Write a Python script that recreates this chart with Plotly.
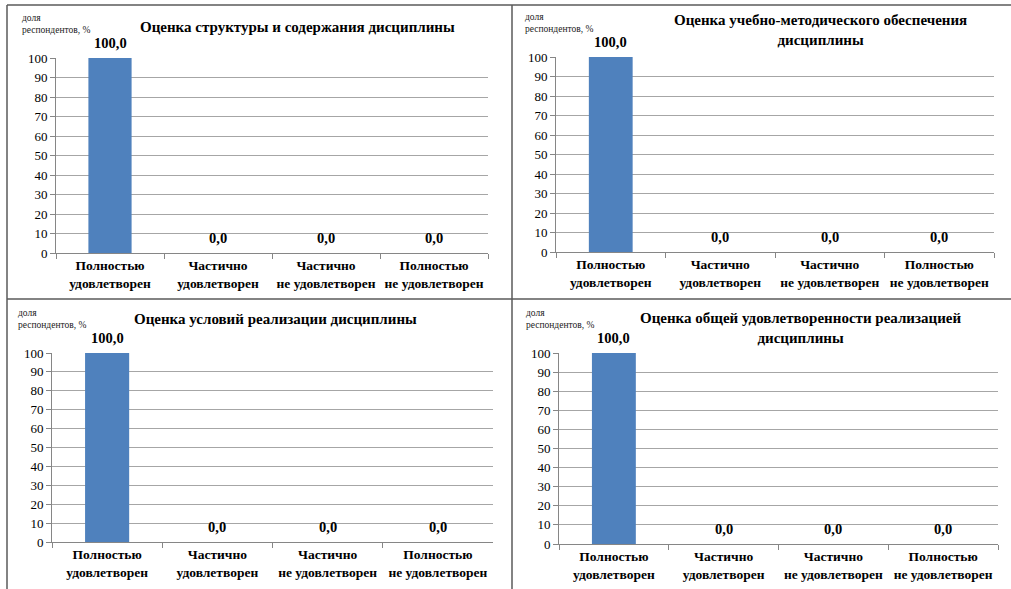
import plotly.graph_objects as go

W, H = 1011, 589

CATEGORIES = [
    "Полностью<br>удовлетворен",
    "Частично<br>удовлетворен",
    "Частично<br>не удовлетворен",
    "Полностью<br>не удовлетворен",
]
TITLES = [
    "Оценка структуры и содержания дисциплины",
    "Оценка учебно-методического обеспечения<br>дисциплины",
    "Оценка условий реализации дисциплины",
    "Оценка общей удовлетворенности реализацией<br>дисциплины",
]
VALUES_STRUCTURE = [100.0, 0.0, 0.0, 0.0]
VALUES_METHODS = [100.0, 0.0, 0.0, 0.0]
VALUES_CONDITIONS = [100.0, 0.0, 0.0, 0.0]
VALUES_OVERALL = [100.0, 0.0, 0.0, 0.0]
Y_TICKS = list(range(0, 101, 10))
Y_LABEL = "доля<br>респондентов, %"

SERIES = [VALUES_STRUCTURE, VALUES_METHODS, VALUES_CONDITIONS, VALUES_OVERALL]

# layout in pixels: plot area (x0, x1, ytop, ybottom), title centre, y-label top-left
PANELS = [
    dict(plot=(56, 488, 58, 253), title=(297, 27), ylab=(20, 11)),
    dict(plot=(556, 994, 57, 252), title=(820, 30), ylab=(523, 10)),
    dict(plot=(52, 493, 353, 542), title=(275, 319), ylab=(16, 306)),
    dict(plot=(559, 998, 353, 544), title=(800, 328), ylab=(524, 306)),
]

BAR_COLOR = "#4f81bd"
GRID = "#a6a6a6"
AXIS = "#868686"
SERIF = "Liberation Serif"


def px_x(x):
    return x / W


def px_y(y):
    return 1 - y / H


fig = go.Figure()
annotations = []

for i, (vals, title, p) in enumerate(zip(SERIES, TITLES, PANELS)):
    n = "" if i == 0 else str(i + 1)
    x0, x1, yt, yb = p["plot"]
    fig.add_trace(go.Bar(
        x=CATEGORIES, y=vals, width=0.4, marker=dict(color=BAR_COLOR, line=dict(width=0)),
        xaxis="x" + n, yaxis="y" + n, showlegend=False, hoverinfo="skip",
    ))
    fig.update_layout({
        "xaxis" + n: dict(
            domain=[px_x(x0), px_x(x1)], anchor="y" + n, type="category",
            showline=True, linecolor=AXIS, linewidth=1, automargin=False,
            ticks="outside", tickson="boundaries", ticklen=5, tickcolor=AXIS,
            tickangle=0,
            tickfont=dict(family=SERIF, size=13.5, color="black", weight="bold"),
            showgrid=False, fixedrange=True,
        ),
        "yaxis" + n: dict(
            domain=[px_y(yb), px_y(yt)], anchor="x" + n, range=[0, 100],
            tickvals=Y_TICKS, showline=True, linecolor=AXIS, linewidth=1, automargin=False,
            ticks="outside", ticklen=5, tickcolor=AXIS,
            showgrid=True, gridcolor=GRID, gridwidth=1.3, zeroline=False,
            tickfont=dict(family=SERIF, size=13, color="black"), fixedrange=True,
        ),
    })
    for c, v in zip(CATEGORIES, vals):
        annotations.append(dict(
            x=c, y=v, xref="x" + n, yref="y" + n, yshift=15, showarrow=False,
            text=f"{v:.1f}".replace(".", ","),
            font=dict(family=SERIF, size=14.5, color="black", weight="bold"),
        ))
    tx, ty = p["title"]
    annotations.append(dict(
        x=px_x(tx), y=px_y(ty), xref="paper", yref="paper", showarrow=False,
        text=title, font=dict(family=SERIF, size=15, color="black", weight="bold"),
        xanchor="center", yanchor="middle",
    ))
    lx, ly = p["ylab"]
    annotations.append(dict(
        x=px_x(lx), y=px_y(ly), xref="paper", yref="paper", showarrow=False,
        text=Y_LABEL, align="left", xanchor="left", yanchor="top",
        font=dict(family=SERIF, size=9.5, color="#222222"),
    ))

border = dict(color="#5a5a5a", width=1.5)
shapes = [
    dict(type="line", xref="paper", yref="paper", x0=px_x(7), x1=1, y0=px_y(5), y1=px_y(5), line=border),
    dict(type="line", xref="paper", yref="paper", x0=px_x(7), x1=px_x(7), y0=px_y(5), y1=0, line=border),
    dict(type="line", xref="paper", yref="paper", x0=px_x(512), x1=px_x(512), y0=px_y(5), y1=0, line=border),
    dict(type="line", xref="paper", yref="paper", x0=px_x(7), x1=1, y0=px_y(299), y1=px_y(299), line=border),
]

fig.update_layout(
    width=W, height=H, margin=dict(l=0, r=0, t=0, b=0, pad=0), autosize=False,
    paper_bgcolor="white", plot_bgcolor="white",
    annotations=annotations, shapes=shapes, bargap=0.6,
)

fig.write_html(
    "out.html",
    config={"displayModeBar": False},
    post_script="document.body.style.margin = '0';",
)
